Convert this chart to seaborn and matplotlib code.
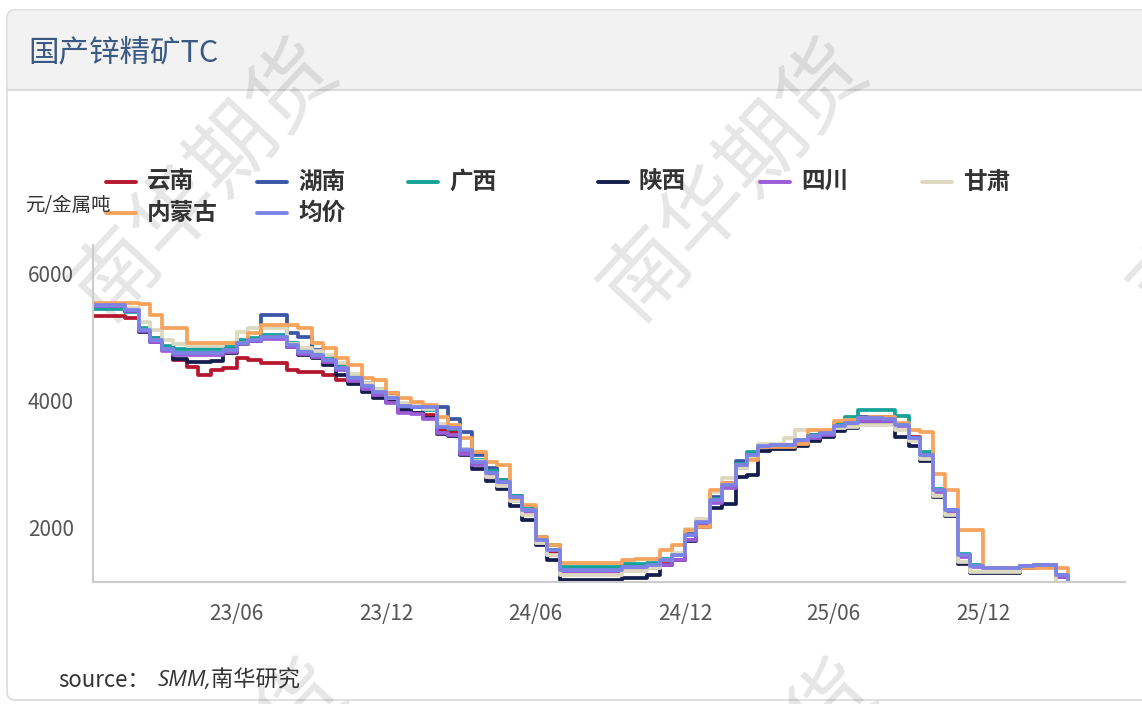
import matplotlib
matplotlib.use('Agg')  # no display
import matplotlib.pyplot as plt
import matplotlib.transforms as mtransforms
from matplotlib.patches import FancyBboxPatch, Rectangle
from matplotlib.lines import Line2D
import seaborn as sns
import pandas as pd

W, H = 1142, 704

# semi-monthly sample dates (1st and 15th), Dec 2022 .. Mar 2026
dates = pd.date_range('2022-12-01', '2026-03-15', freq='SMS')

# TC values, yuan per metal tonne
yunnan = [5530, 5530, 5530, 5500, 5310, 5180, 5040, 4835, 4725, 4600,
          4675, 4710, 4865, 4835, 4790, 4790, 4675, 4645, 4645, 4600,
          4520, 4490, 4360, 4280, 4175, 4015, 4000, 3970, 3730, 3700,
          3400, 3210, 3040, 2900, 2660, 2450, 1990, 1800, 1520, 1520,
          1520, 1520, 1520, 1560, 1560, 1560, 1620, 1680, 2000, 2250,
          2600, 2850, 3160, 3330, 3480, 3490, 3490, 3560, 3630, 3680,
          3790, 3830, 3900, 3900, 3900, 3830, 3620, 3340, 2790, 2470,
          1765, 1590, 1560, 1560, 1560, 1590, 1610, 1610, 1450, 1210]
hunan = [5690, 5690, 5690, 5620, 5300, 5140, 5000, 4940, 4940, 4940,
         4940, 4980, 5100, 5150, 5545, 5545, 5260, 5200, 4990, 4900,
         4760, 4600, 4480, 4380, 4315, 4110, 4095, 4095, 4095, 3900,
         3700, 3340, 3140, 2950, 2700, 2480, 2000, 1840, 1530, 1530,
         1530, 1530, 1530, 1575, 1575, 1610, 1685, 1765, 2100, 2300,
         2680, 2900, 3250, 3340, 3490, 3495, 3495, 3575, 3650, 3690,
         3820, 3860, 3935, 3935, 3935, 3830, 3600, 3340, 2790, 2470,
         1765, 1590, 1560, 1560, 1560, 1590, 1610, 1610, 1450, 1210]
guangxi = [5640, 5640, 5640, 5590, 5340, 5180, 5050, 5010, 5010, 5010,
           5010, 5040, 5150, 5180, 5230, 5230, 5100, 4990, 4930, 4860,
           4730, 4570, 4440, 4340, 4250, 4130, 4110, 4040, 3800, 3750,
           3440, 3260, 3080, 2940, 2700, 2500, 2040, 1920, 1575, 1575,
           1575, 1575, 1575, 1620, 1620, 1640, 1700, 1780, 2080, 2290,
           2650, 2890, 3200, 3380, 3500, 3500, 3500, 3580, 3650, 3700,
           3850, 3940, 4045, 4045, 4045, 3950, 3600, 3380, 2800, 2480,
           1780, 1600, 1560, 1560, 1560, 1590, 1600, 1600, 1450, 1210]
shaanxi = [5700, 5700, 5700, 5600, 5280, 5120, 4990, 4850, 4800, 4800,
           4820, 4950, 5080, 5130, 5180, 5180, 5040, 4920, 4860, 4760,
           4600, 4460, 4330, 4240, 4180, 4050, 4000, 3920, 3670, 3640,
           3340, 3120, 2930, 2800, 2540, 2320, 1920, 1680, 1370, 1370,
           1370, 1370, 1370, 1400, 1400, 1450, 1600, 1690, 1990, 2200,
           2500, 2560, 3000, 3030, 3400, 3440, 3440, 3480, 3560, 3620,
           3720, 3760, 3830, 3830, 3830, 3620, 3480, 3250, 2680, 2380,
           1620, 1480, 1480, 1480, 1480, 1560, 1590, 1590, 1420, 1210]
sichuan = [5680, 5680, 5680, 5600, 5290, 5120, 4980, 4910, 4910, 4910,
           4910, 4960, 5080, 5130, 5170, 5170, 5040, 4930, 4880, 4800,
           4670, 4500, 4380, 4280, 4150, 4000, 3990, 3910, 3680, 3660,
           3350, 3180, 3000, 2860, 2620, 2420, 1960, 1760, 1500, 1500,
           1500, 1500, 1500, 1540, 1540, 1560, 1600, 1680, 2000, 2240,
           2580, 2820, 3140, 3300, 3460, 3480, 3480, 3540, 3600, 3660,
           3770, 3820, 3880, 3880, 3880, 3790, 3590, 3320, 2760, 2440,
           1740, 1580, 1560, 1560, 1560, 1590, 1610, 1610, 1420, 1210]
gansu = [5700, 5700, 5700, 5660, 5440, 5300, 5150, 5080, 5050, 5050,
         5050, 5100, 5280, 5340, 5340, 5340, 5080, 5030, 4980, 4920,
         4790, 4620, 4480, 4380, 4250, 4150, 4120, 4060, 3820, 3760,
         3430, 3250, 3000, 2850, 2620, 2400, 1960, 1760, 1450, 1450,
         1450, 1450, 1450, 1510, 1510, 1560, 1680, 1790, 2180, 2330,
         2750, 2980, 3130, 3300, 3520, 3520, 3600, 3730, 3730, 3740,
         3760, 3780, 3810, 3810, 3810, 3730, 3560, 3280, 2700, 2400,
         1660, 1500, 1500, 1500, 1500, 1580, 1580, 1580, 1300, 1200]
neimenggu = [5730, 5730, 5730, 5730, 5715, 5545, 5340, 5340, 5100, 5100,
             5100, 5100, 5100, 5260, 5385, 5385, 5385, 5340, 5100, 5025,
             4865, 4755, 4550, 4520, 4315, 4235, 4175, 4125, 3935, 3810,
             3605, 3385, 3230, 3180, 2660, 2550, 2045, 1920, 1640, 1640,
             1640, 1640, 1640, 1685, 1700, 1700, 1840, 1920, 2155, 2205,
             2785, 2900, 3180, 3260, 3465, 3465, 3465, 3520, 3730, 3740,
             3875, 3890, 3920, 3935, 3935, 3840, 3730, 3700, 3040, 2785,
             2155, 2155, 1560, 1560, 1560, 1560, 1560, 1560, 1560, 1055]
average = [5700, 5700, 5700, 5620, 5310, 5150, 5010, 4945, 4945, 4945,
           4945, 4990, 5100, 5150, 5200, 5200, 5070, 4960, 4910, 4835,
           4710, 4550, 4425, 4330, 4240, 4110, 4095, 4095, 3780, 3760,
           3420, 3230, 3055, 2910, 2680, 2470, 2000, 1840, 1530, 1530,
           1530, 1530, 1530, 1575, 1575, 1610, 1685, 1765, 2080, 2285,
           2630, 2865, 3180, 3340, 3480, 3495, 3495, 3575, 3640, 3685,
           3795, 3840, 3920, 3920, 3905, 3810, 3605, 3340, 2790, 2470,
           1765, 1590, 1560, 1560, 1560, 1590, 1610, 1610, 1450, 1210]

regions = ['云南', '湖南', '广西', '陕西', '四川', '甘肃', '内蒙古', '均价']
colors = ['#B5172F', '#3A56A6', '#14A396', '#141E4C',
          '#9B5CD6', '#DCD9C0', '#F7A35C', '#7C83E6']
values = [yunnan, hunan, guangxi, shaanxi, sichuan, gansu, neimenggu, average]

x_ticks = ['2023-06-01', '2023-12-01', '2024-06-01', '2024-12-01', '2025-06-01', '2025-12-01']
x_labels = ['23/06', '23/12', '24/06', '24/12', '25/06', '25/12']
y_ticks = [2000, 4000, 6000]

df = pd.concat([pd.DataFrame({'date': dates, 'tc': v, 'region': r})
                for r, v in zip(regions, values)], ignore_index=True)

sns.set_theme(style='white')
plt.rcParams['font.family'] = ['Noto Sans CJK SC', 'DejaVu Sans']

fig = plt.figure(figsize=(W / 100, H / 100), dpi=100)
# pixel coords, origin top-left
px = mtransforms.Affine2D().scale(1 / W, -1 / H).translate(0, 1) + fig.transFigure

# card with grey header
fig.add_artist(FancyBboxPatch((7, 10), 1300, 690, boxstyle='round,pad=0,rounding_size=8',
                              transform=px, fc='white', ec='#DADADA', lw=1.2, zorder=-5))
fig.add_artist(FancyBboxPatch((7.6, 10.6), 1300, 79, boxstyle='round,pad=0,rounding_size=8',
                              transform=px, fc='#F2F2F2', ec='none', zorder=-4))
fig.add_artist(Rectangle((7.6, 60), 1300, 29.5, transform=px, fc='#F2F2F2', ec='none', zorder=-4))
fig.add_artist(Line2D([7, W], [90, 90], transform=px, color='#D6D6D6', lw=1.2, zorder=-3))
fig.text(28, 53, '国产锌精矿TC', transform=px, fontsize=22, color='#3B5A83', va='center')

# watermark (partly outside the card, as in the original)
for cx, cy in [(205, 180), (735, 180), (1265, 180), (215, 800), (745, 800)]:
    fig.text(cx, cy, '南华期货', transform=px, fontsize=62, color='black', alpha=0.1,
             rotation=47, ha='center', va='center', rotation_mode='anchor', zorder=-2)

ax = fig.add_axes([93 / W, 1 - 582 / H, 1032 / W, 337 / H])
ax.patch.set_alpha(0)

for name, color in zip(regions, colors):
    sns.lineplot(data=df[df['region'] == name], x='date', y='tc', color=color, lw=2.7,
                 drawstyle='steps-post', errorbar=None, legend=False, ax=ax)

ax.set_xlim(pd.Timestamp('2022-12-07'), pd.Timestamp('2026-05-24'))
ax.set_ylim(1339, 6646)
ax.set_xlabel('')
ax.set_ylabel('')
sns.despine(ax=ax)
for side in ['left', 'bottom']:
    ax.spines[side].set_color('#CCCCCC')
    ax.spines[side].set_linewidth(1.5)

ax.set_xticks(pd.to_datetime(x_ticks))
ax.set_xticklabels(x_labels)
ax.tick_params(axis='x', direction='in', length=9, width=1.5, color='#CCCCCC',
               labelsize=15, labelcolor='#555555', pad=15)
ax.set_yticks(y_ticks)
ax.set_yticklabels([])
ax.tick_params(axis='y', direction='in', length=9, width=1.5, color='#CCCCCC')
for v in y_ticks:
    ax.text(-0.063, v + 60, str(v), transform=ax.get_yaxis_transform(), ha='left',
            va='baseline', fontsize=15, color='#555555')

# legend, laid out like the original (6 per row)
legend_x = [106, 257, 408, 598, 760, 922, 106, 257]
legend_y = [182, 182, 182, 182, 182, 182, 213, 213]
for name, color, lx, ly in zip(regions, colors, legend_x, legend_y):
    fig.add_artist(Line2D([lx, lx + 30], [ly, ly], transform=px, color=color, lw=2.8))
    fig.text(lx + 41, ly, name, transform=px, fontsize=17, fontweight='bold',
             color='#333333', va='center')

fig.text(25, 206, '元/金属吨', transform=px, fontsize=14, color='#333333', va='center')

fig.text(58, 680, 'source：', transform=px, fontsize=16, color='#333333', va='center')
fig.text(158, 680, 'SMM,南华研究', transform=px, fontsize=16, color='#333333', va='center',
         style='italic', family=['Open Sans', 'Noto Sans CJK SC'])

fig.savefig('out.png', dpi=100)
